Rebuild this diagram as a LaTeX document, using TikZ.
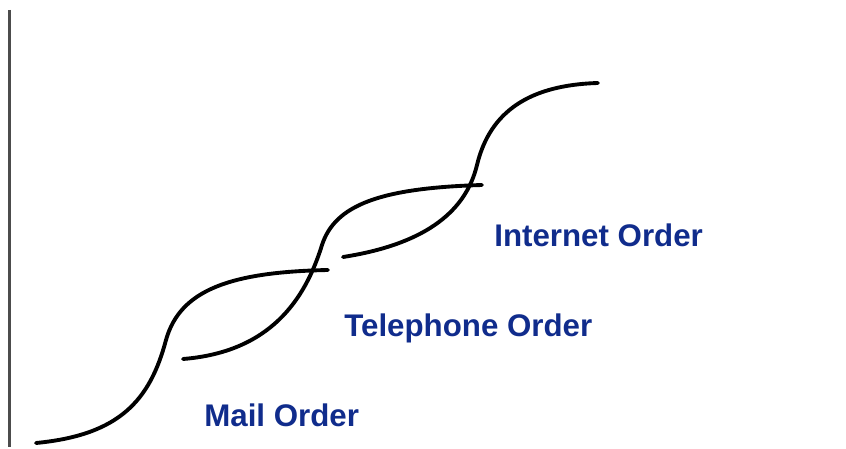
\documentclass[tikz,border=0pt]{standalone}
\usepackage{fontspec}
\setmainfont{Liberation Sans}
\usepackage{xcolor}
\usetikzlibrary{positioning}
\definecolor{orderblue}{RGB}{16,44,140}

\begin{document}
\begin{tikzpicture}[
  x=0.02cm, y=-0.02cm,
  wave/.style={line width=2.2pt, black, line cap=round},
  lbl/.style={anchor=base west, inner sep=0pt, text=orderblue,
              font=\fontsize{17.8}{21}\selectfont\bfseries},
  axis/.style={line width=1.2pt, black!70}
]
\useasboundingbox (0,0) rectangle (846,449);
% axis
\coordinate (ytop) at (9.5,10);
\coordinate (ybot) at (9.5,447);
\draw[axis] (ytop) -- (ybot);
% mail order curve
\coordinate (m0) at (36,443);
\coordinate (m1) at (166,340);
\coordinate (m2) at (328,270);
\draw[wave] (m0) .. controls (120,435) and (150,400) .. (m1)
                 .. controls (180,290) and (230,272) .. (m2);
% telephone order curve
\coordinate (t0) at (183,359);
\coordinate (t1) at (322,245);
\coordinate (t2) at (482,185);
\draw[wave] (t0) .. controls (270,352) and (305,300) .. (t1)
                 .. controls (335,205) and (380,188) .. (t2);
% internet order curve
\coordinate (i0) at (343,257);
\coordinate (i1) at (477,165);
\coordinate (i2) at (598,83);
\draw[wave] (i0) .. controls (420,245) and (465,215) .. (i1)
                 .. controls (490,111) and (530,85) .. (i2);
% labels
\node[lbl] (mail) at (204,427) {Mail Order};
\node[lbl] (tele) at (344,337) {Telephone Order};
\node[lbl] (inet) at (494,247) {Internet Order};
\end{tikzpicture}
\end{document}
